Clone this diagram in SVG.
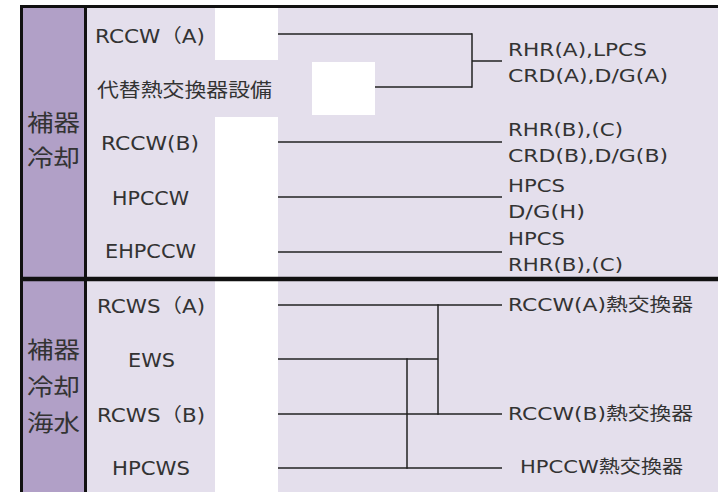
<svg xmlns="http://www.w3.org/2000/svg" width="718" height="492" viewBox="0 0 718 492">
<style>
.bg{fill:#e4dfec}
.side{fill:#b1a0c7}
.blank{fill:#ffffff}
.frame{stroke:#111;fill:none}
.t{font-family:"DejaVu Sans","Noto Sans CJK JP",sans-serif;fill:#333}
.l{font-size:19px}
.r{font-size:18px}
.j{font-family:"Noto Sans CJK JP",sans-serif;fill:#333}
.big{font-size:23px}
.conn line{stroke:#222;stroke-width:1.5}
</style>
<rect x="0" y="0" width="718" height="492" fill="#fff"/>
<rect class="bg" x="20" y="5" width="698" height="487"/>
<rect class="side" x="20" y="5" width="65" height="487"/>
<rect class="blank" x="215" y="8" width="63" height="52"/>
<rect class="blank" x="312" y="62" width="63" height="53"/>
<rect class="blank" x="215" y="117" width="63" height="375"/>
<g id="frame" class="frame">
<line x1="20" y1="6.5" x2="718" y2="6.5" stroke-width="3"/>
<line x1="21.5" y1="5" x2="21.5" y2="492" stroke-width="3"/>
<line x1="85.5" y1="5" x2="85.5" y2="492" stroke-width="3"/>
<line x1="20" y1="279" x2="718" y2="279" stroke-width="4.5"/>
</g>
<g id="group-cooling">
<text class="j big" x="27" y="131" textLength="53" lengthAdjust="spacingAndGlyphs">補器</text>
<text class="j big" x="27" y="166" textLength="53" lengthAdjust="spacingAndGlyphs">冷却</text>
</g>
<g id="group-seawater">
<text class="j big" x="27" y="358" textLength="53" lengthAdjust="spacingAndGlyphs">補器</text>
<text class="j big" x="27" y="395" textLength="53" lengthAdjust="spacingAndGlyphs">冷却</text>
<text class="j big" x="27" y="431" textLength="53" lengthAdjust="spacingAndGlyphs">海水</text>
</g>
<g id="src-rccw-a"><text class="t l" x="95" y="43" textLength="110" lengthAdjust="spacingAndGlyphs">RCCW（A)</text></g>
<g id="src-alt-hx"><text class="j" font-size="19" x="97" y="97" textLength="175" lengthAdjust="spacingAndGlyphs">代替熱交換器設備</text></g>
<g id="src-rccw-b"><text class="t l" x="101" y="150" textLength="98" lengthAdjust="spacingAndGlyphs">RCCW(B)</text></g>
<g id="src-hpccw"><text class="t l" x="112" y="205" textLength="77" lengthAdjust="spacingAndGlyphs">HPCCW</text></g>
<g id="src-ehpccw"><text class="t l" x="105" y="258" textLength="91" lengthAdjust="spacingAndGlyphs">EHPCCW</text></g>
<g id="src-rcws-a"><text class="t l" x="97" y="313" textLength="108" lengthAdjust="spacingAndGlyphs">RCWS（A)</text></g>
<g id="src-ews"><text class="t l" x="128" y="367" textLength="47" lengthAdjust="spacingAndGlyphs">EWS</text></g>
<g id="src-rcws-b"><text class="t l" x="97" y="422" textLength="108" lengthAdjust="spacingAndGlyphs">RCWS（B)</text></g>
<g id="src-hpcws"><text class="t l" x="112" y="475" textLength="78" lengthAdjust="spacingAndGlyphs">HPCWS</text></g>
<g id="dst-a">
<text class="t r" x="508" y="56" textLength="139" lengthAdjust="spacingAndGlyphs">RHR(A),LPCS</text>
<text class="t r" x="508" y="82" textLength="160" lengthAdjust="spacingAndGlyphs">CRD(A),D/G(A)</text>
</g>
<g id="dst-b">
<text class="t r" x="508" y="136" textLength="115" lengthAdjust="spacingAndGlyphs">RHR(B),(C)</text>
<text class="t r" x="508" y="162" textLength="160" lengthAdjust="spacingAndGlyphs">CRD(B),D/G(B)</text>
</g>
<g id="dst-h">
<text class="t r" x="508" y="192" textLength="57" lengthAdjust="spacingAndGlyphs">HPCS</text>
<text class="t r" x="508" y="218" textLength="77" lengthAdjust="spacingAndGlyphs">D/G(H)</text>
</g>
<g id="dst-e">
<text class="t r" x="508" y="245" textLength="57" lengthAdjust="spacingAndGlyphs">HPCS</text>
<text class="t r" x="508" y="271" textLength="115" lengthAdjust="spacingAndGlyphs">RHR(B),(C)</text>
</g>
<g id="dst-rccw-a-hx"><text class="t r" x="508" y="311" textLength="185" lengthAdjust="spacingAndGlyphs">RCCW(A)熱交換器</text></g>
<g id="dst-rccw-b-hx"><text class="t r" x="508" y="420" textLength="185" lengthAdjust="spacingAndGlyphs">RCCW(B)熱交換器</text></g>
<g id="dst-hpccw-hx"><text class="t r" x="520" y="473" textLength="163" lengthAdjust="spacingAndGlyphs">HPCCW熱交換器</text></g>
<g id="connectors" class="conn">
<line x1="278" y1="34" x2="472" y2="34"/>
<line x1="375" y1="87" x2="472" y2="87"/>
<line x1="472" y1="33.25" x2="472" y2="87.75"/>
<line x1="472" y1="61" x2="502" y2="61"/>
<line x1="278" y1="142" x2="502" y2="142"/>
<line x1="278" y1="197" x2="502" y2="197"/>
<line x1="278" y1="252" x2="502" y2="252"/>
<line x1="278" y1="305" x2="502" y2="305"/>
<line x1="278" y1="359" x2="438" y2="359"/>
<line x1="438" y1="304.25" x2="438" y2="414.75"/>
<line x1="278" y1="414" x2="502" y2="414"/>
<line x1="278" y1="468" x2="502" y2="468"/>
<line x1="407" y1="358.25" x2="407" y2="468.75"/>
</g>
</svg>
